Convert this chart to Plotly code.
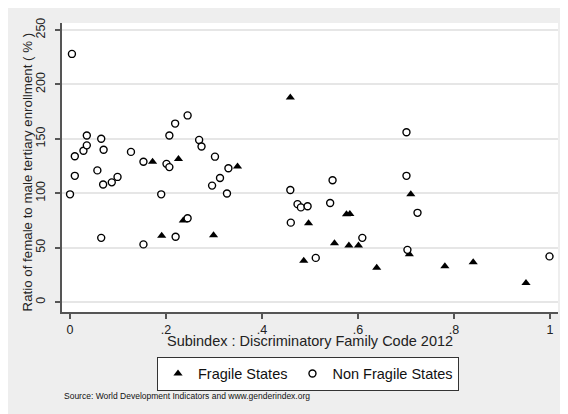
import plotly.graph_objects as go

# ---- data ----
fragile_x = [0.172, 0.226, 0.349, 0.191, 0.236, 0.299, 0.459, 0.497, 0.487, 0.551,
             0.576, 0.583, 0.581, 0.601, 0.639, 0.710, 0.707, 0.781, 0.840, 0.950]
fragile_y = [129, 131.5, 124.5, 61, 75, 61.5, 188, 72.5, 38, 54,
             80.6, 81, 52, 52, 31.5, 99, 44, 33, 36.6, 17.6]

nonfragile_x = [0.004, 0.000, 0.010, 0.010, 0.028, 0.035, 0.035, 0.065, 0.070, 0.057,
                0.069, 0.087, 0.099, 0.065, 0.127, 0.153, 0.190, 0.201, 0.207, 0.207,
                0.219, 0.245, 0.153, 0.220, 0.245, 0.269, 0.274, 0.302, 0.3125, 0.296,
                0.330, 0.327, 0.459, 0.460, 0.474, 0.481, 0.495, 0.512, 0.542, 0.547,
                0.609, 0.701, 0.701, 0.703, 0.724, 0.999]
nonfragile_y = [228, 99, 116, 134, 139, 144, 153, 150, 140, 121,
                108, 110, 115, 59, 138, 129, 99, 127, 124, 153,
                164, 171.5, 53, 60, 77, 149, 143, 133.6, 114, 107,
                123, 99.7, 103, 73, 90, 87, 88, 40.6, 91, 112,
                59, 156, 116, 48, 82, 42]

x_ticks = [0, 0.2, 0.4, 0.6, 0.8, 1.0]
x_tick_labels = ["0", ".2", ".4", ".6", ".8", "1"]
y_ticks = [0, 50, 100, 150, 200, 250]

FONT = "Liberation Sans, Arial, sans-serif"
BG = "#EEEEEE"

fig = go.Figure()
fig.add_trace(go.Scatter(
    x=fragile_x, y=fragile_y, mode="markers", name="Fragile States",
    marker=dict(symbol="triangle-up", size=8, color="black", line=dict(width=0)),
))
fig.add_trace(go.Scatter(
    x=nonfragile_x, y=nonfragile_y, mode="markers", name="Non Fragile States",
    marker=dict(symbol="circle", size=7, color="white", line=dict(width=1.4, color="black")),
))

# page is offset by the browser's 8px body margin
OFF = 8
W, H = 568 - OFF, 414 - OFF
# plot area in page pixels: x 62..558, y 20..312
L, R, T, B = 62 - OFF, W - (558 - OFF), 20 - OFF, H - (312 - OFF)
pw, ph = W - L - R, H - T - B

def px(xp):  # page x pixel -> paper
    return (xp - OFF - L) / pw

def py(yp):  # page y pixel -> paper
    return (H - B - (yp - OFF)) / ph

fig.update_layout(
    width=W, height=H,
    margin=dict(l=L, r=R, t=T, b=B, pad=0),
    paper_bgcolor=BG, plot_bgcolor="white",
    font=dict(family=FONT, size=12, color="#222"),
    showlegend=True,
    legend=dict(
        orientation="h", x=px(308), y=py(357), xanchor="center", yanchor="top",
        bgcolor="white", bordercolor="#333", borderwidth=1,
        font=dict(size=14.5, color="#111"), itemwidth=30,
    ),
    xaxis=dict(
        range=[-0.0167, 1.0167], tickvals=x_ticks, ticktext=x_tick_labels,
        showgrid=False, zeroline=False, showline=True, linecolor="#555", linewidth=1.5,
        ticks="outside", ticklen=5, tickcolor="#555", tickwidth=1.5,
        tickfont=dict(size=12.5, color="#222"), mirror=False,
    ),
    yaxis=dict(
        range=[-9.1, 256.4], tickvals=y_ticks,
        showgrid=True, gridcolor="#E6E6E6", gridwidth=1.5,
        zeroline=False, showline=True, linecolor="#555", linewidth=1.5,
        ticks="outside", ticklen=5, tickcolor="#555", tickwidth=1.5,
        tickangle=-90, tickfont=dict(size=12.5, color="#222"),
        ticklabelstandoff=5,
    ),
    annotations=[
        dict(text="Subindex : Discriminatory Family Code 2012", x=px(310), y=py(341),
             xref="paper", yref="paper", xanchor="center", yanchor="middle",
             showarrow=False, font=dict(size=14.5, color="#222")),
        dict(text="Ratio of female to male tertiary enrollment ( % )", x=px(27), y=py(171),
             xref="paper", yref="paper", xanchor="center", yanchor="middle",
             textangle=-90, showarrow=False, font=dict(size=13.3, color="#222")),
        dict(text="Source: World Development Indicators and www.genderindex.org",
             x=px(62), y=py(397), xref="paper", yref="paper", xanchor="left", yanchor="middle",
             showarrow=False, font=dict(size=8.5, color="#111")),
    ],
)

fig.write_html("out.html")
